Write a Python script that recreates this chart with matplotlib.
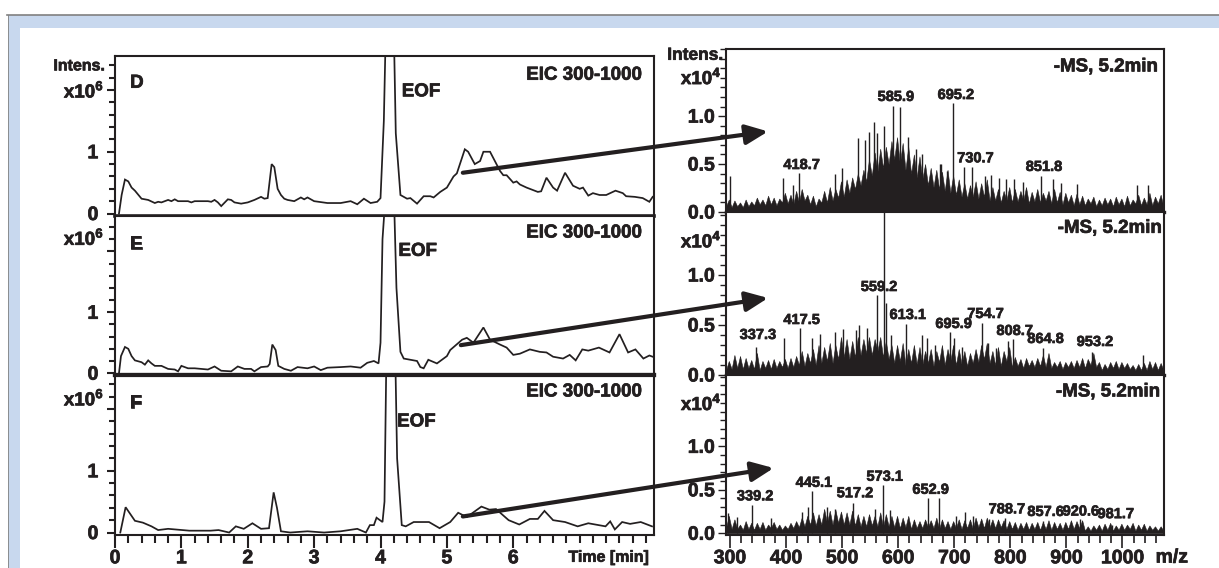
import numpy as np
import matplotlib
matplotlib.use('Agg')
import matplotlib.pyplot as plt
import matplotlib.patheffects as pe
from matplotlib.patches import Rectangle
from matplotlib.text import Text
from matplotlib.ticker import MultipleLocator

plt.rcParams['font.family'] = ['Liberation Sans', 'DejaVu Sans']
plt.rcParams['font.weight'] = 'bold'
plt.rcParams['mathtext.fontset'] = 'custom'
plt.rcParams['mathtext.rm'] = 'Liberation Sans:bold'
plt.rcParams['mathtext.bf'] = 'Liberation Sans:bold'

W = 1219
H = 568
TINTA = '#231f20'
AZUL = '#c8d8ee'

# Electroferogramas (tiempo en min, intensidad x10^6)
t_D = [0.06, 0.1, 0.15, 0.2, 0.25, 0.3, 0.4, 0.5, 0.6, 0.65, 0.7, 0.8, 0.85, 0.9, 0.95, 1.0, 1.1, 1.15, 1.2, 1.4, 1.45, 1.5, 1.55, 1.6, 1.7, 1.75, 1.8,
       1.9, 2.0, 2.1, 2.2, 2.25, 2.3, 2.36, 2.4, 2.45, 2.5, 2.55, 2.6, 2.7, 2.8, 2.85, 2.9, 3.0, 3.2, 3.4, 3.55, 3.65, 3.75, 3.85, 3.95, 4.0,
       4.05, 4.08, 4.2, 4.23, 4.3, 4.35, 4.4, 4.45, 4.55, 4.65, 4.75, 4.8, 4.9, 5.0, 5.1, 5.15, 5.27, 5.32, 5.42, 5.5, 5.55,
       5.65, 5.8, 5.85, 5.9, 6.0, 6.05, 6.1, 6.2, 6.37, 6.42, 6.5, 6.6, 6.66, 6.78, 6.9, 7.0, 7.05, 7.13, 7.2, 7.3, 7.4, 7.54, 7.65, 7.7, 7.83, 7.95, 8.05, 8.1]
int_D = [0, 0.3, 0.55, 0.52, 0.42, 0.37, 0.24, 0.22, 0.17, 0.19, 0.18, 0.22, 0.2, 0.23, 0.2, 0.2, 0.2, 0.18, 0.2, 0.2, 0.19, 0.22, 0.18, 0.12, 0.23, 0.22, 0.18,
         0.16, 0.18, 0.22, 0.27, 0.24, 0.25, 0.8, 0.75, 0.4, 0.3, 0.24, 0.22, 0.2, 0.26, 0.23, 0.26, 0.2, 0.17, 0.17, 0.2, 0.15, 0.24, 0.17, 0.19, 0.25,
         1.5, 3.0, 3.0, 1.3, 0.3, 0.27, 0.24, 0.25, 0.16, 0.28, 0.28, 0.26, 0.35, 0.42, 0.6, 0.65, 1.04, 1.0, 0.8, 0.85, 1.0,
         1.0, 0.69, 0.62, 0.62, 0.5, 0.52, 0.47, 0.42, 0.35, 0.36, 0.58, 0.42, 0.37, 0.66, 0.45, 0.4, 0.42, 0.29, 0.33, 0.3, 0.3, 0.37, 0.33, 0.28, 0.27, 0.25, 0.19, 0.27]

t_E = [0.06, 0.09, 0.15, 0.2, 0.25, 0.3, 0.4, 0.45, 0.5, 0.55, 0.6, 0.7, 0.8, 0.9, 0.95, 1.0, 1.1, 1.2, 1.3, 1.4, 1.5, 1.6, 1.75,
       1.85, 1.95, 2.05, 2.1, 2.2, 2.3, 2.33, 2.37, 2.42, 2.46, 2.55, 2.65, 2.75, 2.9, 3.0, 3.1, 3.2, 3.4, 3.55, 3.7, 3.8, 3.9, 3.97,
       4.0, 4.03, 4.08, 4.2, 4.24, 4.3, 4.35, 4.45, 4.55, 4.6, 4.65, 4.72, 4.85, 5.0, 5.05, 5.23, 5.3, 5.4, 5.55, 5.65, 5.8, 5.9,
       6.0, 6.1, 6.25, 6.4, 6.5, 6.6, 6.75, 6.85, 6.94, 7.04, 7.13, 7.29, 7.45, 7.6, 7.73, 7.84, 7.96, 8.05, 8.1]
int_E = [0, 0.28, 0.43, 0.4, 0.28, 0.21, 0.18, 0.14, 0.21, 0.16, 0.12, 0.12, 0.07, 0.06, 0.03, 0.12, 0.08, 0.08, 0.07, 0.06, 0.11, 0.04, 0.03,
         0.11, 0.07, 0.07, 0.03, 0.1, 0.11, 0.15, 0.47, 0.38, 0.12, 0.07, 0.04, 0.1, 0.08, 0.11, 0.05, 0.09, 0.1, 0.11, 0.09, 0.17, 0.2, 0.16,
         0.5, 2.2, 3.0, 3.0, 1.4, 0.35, 0.24, 0.22, 0.2, 0.1, 0.08, 0.22, 0.16, 0.28, 0.38, 0.55, 0.58, 0.5, 0.75, 0.55, 0.47, 0.42,
         0.3, 0.32, 0.39, 0.35, 0.34, 0.27, 0.24, 0.3, 0.21, 0.39, 0.37, 0.42, 0.34, 0.64, 0.34, 0.39, 0.24, 0.29, 0.27]

t_F = [0.08, 0.16, 0.3, 0.42, 0.55, 0.65, 0.8, 1.12, 1.44, 1.56, 1.72, 1.82, 1.94, 2.07, 2.2, 2.32, 2.39, 2.44, 2.5, 2.64, 2.9, 3.15,
       3.4, 3.65, 3.78, 3.84, 3.9, 3.94, 4.03, 4.06, 4.09, 4.22, 4.25, 4.32, 4.38, 4.5, 4.73, 4.89, 5.05, 5.17, 5.3, 5.52, 5.64,
       5.74, 5.93, 6.09, 6.25, 6.37, 6.47, 6.6, 6.78, 6.97, 7.13, 7.39, 7.46, 7.53, 7.64, 7.76, 7.92, 8.09]
int_F = [0, 0.41, 0.19, 0.16, 0.1, 0.04, 0.06, 0.03, 0.03, 0.04, 0, 0.1, 0.06, 0.15, 0.06, 0.07, 0.65, 0.4, 0.02, 0, 0.02, 0,
         0.02, 0.06, 0, 0.12, 0.12, 0.24, 0.17, 0.5, 3.0, 3.0, 1.2, 0.12, 0.1, 0.17, 0.17, 0.07, 0.17, 0.32, 0.25, 0.42, 0.37,
         0.38, 0.2, 0.13, 0.22, 0.22, 0.35, 0.2, 0.17, 0.1, 0.15, 0.1, 0.18, 0.05, 0.17, 0.14, 0.17, 0.1]

# Espectros: cuerpo cada 5 m/z desde 293, intensidad x10^4
cuerpo_D = [.06, .13, .05, .12, .06, .10, .05, .13, .06, .11,
            .07, .15, .08, .13, .07, .17, .08, .15, .07, .14,
            .10, .20, .09, .18, .08, .22, .10, .24, .12, .18,
            .08, .17, .06, .14, .10, .22, .10, .26, .12, .24,
            .15, .32, .16, .34, .20, .36, .24, .40, .28, .44,
            .32, .55, .38, .62, .42, .66, .46, .68, .50, .74,
            .55, .78, .50, .72, .44, .68, .40, .60, .36, .58,
            .34, .50, .28, .46, .26, .44, .24, .42, .22, .44,
            .20, .38, .18, .34, .16, .30, .14, .28, .16, .32,
            .14, .30, .16, .34, .12, .26, .12, .24, .10, .22,
            .12, .26, .10, .24, .11, .22, .12, .26, .09, .21,
            .11, .24, .10, .20, .12, .22, .09, .24, .10, .21,
            .08, .20, .10, .18, .07, .19, .08, .17, .07, .14,
            .09, .16, .06, .13, .07, .15, .08, .14, .06, .16,
            .08, .14, .06, .17, .07, .13, .09, .18, .07, .15,
            .08, .20, .07, .16, .09, .18, .06]
cuerpo_E = [.05, .14, .06, .20, .07, .19, .06, .17, .07, .15,
            .06, .22, .05, .14, .07, .15, .06, .16, .07, .14,
            .08, .16, .07, .17, .08, .19, .10, .24, .09, .22,
            .12, .26, .10, .30, .12, .28, .14, .32, .12, .30,
            .16, .38, .18, .36, .16, .34, .18, .38, .20, .36,
            .22, .38, .20, .36, .24, .38, .18, .34, .16, .30,
            .12, .30, .14, .32, .10, .26, .12, .30, .11, .28,
            .10, .24, .12, .26, .09, .24, .13, .30, .10, .26,
            .14, .30, .10, .26, .11, .24, .09, .22, .12, .26,
            .13, .30, .16, .32, .12, .24, .10, .28, .09, .24,
            .14, .28, .08, .18, .09, .16, .07, .17, .09, .15,
            .08, .17, .09, .20, .08, .22, .07, .13, .08, .14,
            .06, .13, .08, .14, .07, .15, .08, .17, .07, .16,
            .10, .22, .08, .13, .05, .11, .06, .13, .07, .14,
            .06, .13, .07, .12, .06, .10, .05, .11, .05, .12,
            .05, .14, .06, .13, .05, .12, .05]
cuerpo_F = [.06, .20, .05, .16, .05, .10, .04, .14, .05, .12,
            .04, .12, .05, .13, .04, .10, .06, .13, .05, .10,
            .04, .09, .05, .12, .06, .14, .07, .18, .08, .20,
            .10, .24, .09, .22, .10, .28, .12, .26, .10, .27,
            .12, .25, .10, .24, .10, .26, .09, .22, .08, .20,
            .08, .22, .09, .20, .08, .24, .07, .22, .08, .20,
            .07, .20, .06, .18, .07, .20, .05, .16, .06, .14,
            .06, .16, .07, .15, .06, .18, .05, .16, .06, .14,
            .05, .14, .06, .16, .05, .15, .06, .16, .05, .18,
            .07, .17, .06, .18, .07, .16, .06, .16, .07, .15,
            .05, .14, .05, .13, .04, .12, .05, .13, .04, .12,
            .05, .13, .04, .13, .05, .15, .04, .13, .05, .12,
            .04, .13, .05, .15, .05, .14, .06, .15, .03, .08,
            .03, .09, .04, .10, .03, .11, .04, .12, .03, .09,
            .04, .11, .04, .10, .05, .12, .03, .10, .04, .11,
            .03, .09, .04, .08, .03, .08, .03]

# Picos sueltos que sobresalen del cuerpo
mz_pico_D = [301, 395, 413, 424, 487, 499, 529, 541, 548, 557, 563, 574, 590, 604, 618, 632, 642, 675, 676, 687, 697, 717,
             732, 754, 766, 780, 793, 806, 823, 854, 876, 891, 919, 1025, 1046]
int_pico_D = [0.38, 0.35, 0.28, 0.41, 0.40, 0.46, 0.77, 0.75, 0.83, 0.94, 0.82, 0.90, 1.11, 1.10, 0.78, 0.66, 0.60, 0.50, 0.50, 0.43, 1.14, 0.47,
              0.47, 0.38, 0.39, 0.35, 0.34, 0.34, 0.31, 0.38, 0.34, 0.30, 0.29, 0.28, 0.28]
mz_pico_E = [346, 397, 425, 447, 461, 487, 502, 525, 531, 544, 562, 575, 578, 587, 614, 643, 652, 666, 693, 699, 713, 750,
             761, 775, 796, 804, 858, 945, 1037]
int_pico_E = [0.28, 0.37, 0.47, 0.37, 0.41, 0.43, 0.46, 0.45, 0.50, 0.47, 0.80, 1.70, 0.72, 0.40, 0.51, 0.40, 0.37, 0.30, 0.43, 0.37, 0.28, 0.52,
              0.32, 0.27, 0.34, 0.36, 0.27, 0.23, 0.20]
mz_pico_F = [297, 312, 339, 373, 428, 440, 446, 473, 488, 519, 559, 573, 586, 653, 672, 704, 720, 733, 762, 790, 858, 924, 982]
int_pico_F = [0.23, 0.19, 0.32, 0.17, 0.25, 0.30, 0.49, 0.30, 0.28, 0.35, 0.28, 0.55, 0.27, 0.41, 0.41, 0.20, 0.25, 0.20, 0.16, 0.18, 0.14, 0.16, 0.10]

etiquetas_D = ['418.7', '585.9', '695.2', '730.7', '851.8']
etiquetas_E = ['337.3', '417.5', '559.2', '613.1', '695.9', '754.7', '808.7', '864.8', '953.2']
etiquetas_F = ['339.2', '445.1', '517.2', '573.1', '652.9', '788.7', '857.6', '920.6', '981.7']


def ejes(x0, y0, x1, y1):
    # caja en pixeles de la imagen original
    return fig.add_axes([x0 / W, 1 - y1 / H, (x1 - x0) / W, (y1 - y0) / H])


def marco(ax, lw=1.5):
    for s in ax.spines.values():
        s.set_linewidth(lw)
        s.set_color(TINTA)


def panel_tiempo(ax, t, inten, letra, y_letra, y_eic, x_eof, y_eof, y_exp, ymin, ymax):
    ax.plot(t, inten, color=TINTA, lw=1.25, solid_joinstyle='miter')
    ax.set_xlim(0, 8.12)
    ax.set_ylim(ymin, ymax)
    ax.set_yticks([0, 1, 2])
    ax.set_yticklabels(['0', '1', ''], fontsize=14)
    ax.yaxis.set_minor_locator(MultipleLocator(0.2))
    ax.tick_params(axis='y', which='major', length=6, width=1.5, pad=6, color=TINTA, labelcolor=TINTA)
    ax.tick_params(axis='y', which='minor', length=4, width=1.5, color=TINTA)
    ax.set_xticks([])
    marco(ax)
    ax.text(0.028, y_letra, letra, transform=ax.transAxes, fontsize=13.5, color=TINTA, va='center')
    ax.text(x_eof, y_eof, 'EOF', fontsize=13.5, color=TINTA, va='center')
    ax.text(0.977, y_eic, 'EIC 300-1000', transform=ax.transAxes, fontsize=13.5, color=TINTA, ha='right', va='center')
    ax.text(-0.02, y_exp, r'x10$^{6}$', transform=ax.get_yaxis_transform(), fontsize=13.5, color=TINTA, ha='right', va='center')


def panel_ms(ax, cuerpo, mz_pico, int_pico, x_tit, y_tit, y_exp, ymin, ymax):
    mz = 293 + 5 * np.arange(len(cuerpo))
    ax.fill_between(mz, 0, cuerpo, color=TINTA, lw=0.4)
    ax.vlines(mz_pico, 0, int_pico, color=TINTA, lw=1.0)
    ax.set_xlim(293, 1074)
    ax.set_ylim(ymin, ymax)
    ax.set_yticks([0, 0.5, 1.0])
    ax.set_yticklabels(['0.0', '0.5', '1.0'], fontsize=14)
    ax.yaxis.set_minor_locator(MultipleLocator(0.1))
    ax.tick_params(axis='y', which='major', length=6, width=1, pad=2, color=TINTA, labelcolor=TINTA)
    ax.tick_params(axis='y', which='minor', length=4, width=1, color=TINTA)
    ax.set_xticks([])
    marco(ax, 1.5)
    ax.text(x_tit, y_tit, '-MS, 5.2min', transform=ax.transAxes, fontsize=13.5, color=TINTA, ha='right', va='center')
    ax.text(-0.01, y_exp, r'x10$^{4}$', transform=ax.get_yaxis_transform(), fontsize=13.5, color=TINTA, ha='right', va='center')


fig = plt.figure(figsize=(W / 100, H / 100), dpi=100, facecolor='white')

# marco azul de la pagina
fondo = fig.add_axes([0, 0, 1, 1], zorder=-1)
fondo.set_xlim(0, W)
fondo.set_ylim(H, 0)
fondo.axis('off')
fondo.add_patch(Rectangle((7.5, 15), W - 7.5, H - 15, color=AZUL, lw=0))
fondo.add_patch(Rectangle((20, 28), W - 20, H - 28, color='white', lw=0))
fondo.plot([7, W], [14.5, 14.5], color='#808080', lw=1.2)
fondo.plot([7.5, 7.5], [14.5, H], color='#808080', lw=0.6)

ax_D = ejes(115, 56, 654, 216)
ax_E = ejes(115, 216, 654, 375)
ax_F = ejes(115, 375, 654, 535)
panel_tiempo(ax_D, t_D, int_D, 'D', 0.83, 0.88, 4.32, 1.97, 1.98, -0.04, 2.55)
panel_tiempo(ax_E, t_E, int_E, 'E', 0.82, 0.893, 4.27, 2.0, 2.21, -0.03, 2.58)
panel_tiempo(ax_F, t_F, int_F, 'F', 0.82, 0.894, 4.25, 1.79, 2.16, -0.04, 2.55)
ax_D.spines['bottom'].set_linewidth(2.6)
ax_E.spines['bottom'].set_linewidth(3.0)
ax_F.spines['top'].set_linewidth(3.0)

ax_F.set_xticks([0, 1, 2, 3, 4, 5, 6])
ax_F.set_xticklabels(['0', '1', '2', '3', '4', '5', '6'], fontsize=14)
ax_F.xaxis.set_minor_locator(MultipleLocator(0.2))
ax_F.tick_params(axis='x', which='major', length=9, width=1.5, pad=2, color=TINTA, labelcolor=TINTA)
ax_F.tick_params(axis='x', which='minor', length=6, width=1.5, color=TINTA)
ax_F.text(7.44, -0.40, 'Time [min]', fontsize=11.5, color=TINTA, ha='center', va='center')
ax_D.text(-0.018, 2.39, 'Intens.', transform=ax_D.get_yaxis_transform(), fontsize=11.5, color=TINTA, ha='right', va='center')

ms_D = ejes(726, 49, 1164, 212)
ms_E = ejes(726, 212, 1164, 375)
ms_F = ejes(726, 375, 1164, 535)
panel_ms(ms_D, cuerpo_D, mz_pico_D, int_pico_D, 0.986, 0.89, 1.40, 0, 1.70)
panel_ms(ms_E, cuerpo_E, mz_pico_E, int_pico_E, 0.995, 0.90, 1.34, 0, 1.63)
panel_ms(ms_F, cuerpo_F, mz_pico_F, int_pico_F, 0.991, 0.894, 1.49, -0.02, 1.82)
ms_D.spines['bottom'].set_linewidth(2.4)
ms_E.spines['bottom'].set_linewidth(2.4)
ms_D.text(-0.006, 1.635, 'Intens.', transform=ms_D.get_yaxis_transform(), fontsize=12.5, color=TINTA, ha='right', va='center')

ms_F.set_xticks([300, 400, 500, 600, 700, 800, 900, 1000])
ms_F.set_xticklabels(['300', '400', '500', '600', '700', '800', '900', '1000'], fontsize=14)
ms_F.xaxis.set_minor_locator(MultipleLocator(20))
ms_F.tick_params(axis='x', which='major', length=9, width=1.2, pad=2, color=TINTA, labelcolor=TINTA)
ms_F.tick_params(axis='x', which='minor', length=6, width=1.2, color=TINTA)
ms_F.text(1088, -0.285, 'm/z', fontsize=14, color=TINTA, ha='center', va='center', clip_on=False)

# etiquetas de masa, en las coordenadas del pico que nombran
for et, x, y in zip(etiquetas_D, [428, 596, 703, 738, 860], [0.49, 1.20, 1.22, 0.56, 0.47]):
    ms_D.text(x, y, et, fontsize=10.5, color=TINTA, ha='center', va='center')
for et, x, y in zip(etiquetas_E, [350, 428, 566, 617, 699, 756, 808, 863, 951],
                    [0.40, 0.55, 0.88, 0.60, 0.51, 0.61, 0.44, 0.36, 0.33]):
    ms_E.text(x, y, et, fontsize=10.5, color=TINTA, ha='center', va='center')
for et, x, y in zip(etiquetas_F, [345, 450, 523, 576, 658, 794, 863, 926, 988],
                    [0.425, 0.58, 0.46, 0.65, 0.50, 0.275, 0.245, 0.25, 0.22]):
    ms_F.text(x, y, et, fontsize=10.5, color=TINTA, ha='center', va='center')

# flechas del electroferograma al espectro
for ax_t, ax_ms, p0, p1 in [(ax_D, ms_D, (5.24, 0.66), (368, 0.84)),
                            (ax_E, ms_E, (5.21, 0.46), (368, 0.77)),
                            (ax_F, ms_F, (5.24, 0.26), (378, 0.75))]:
    anot = ax_ms.annotate('', xy=p1, xycoords=ax_ms.transData, xytext=p0, textcoords=ax_t.transData,
                          arrowprops=dict(arrowstyle='-|>,head_length=0.45,head_width=0.2', color=TINTA, lw=3.0,
                                          shrinkA=0, shrinkB=0, mutation_scale=30), annotation_clip=False)
    anot.set_zorder(20)

# el original esta impreso con el texto mas grueso
for txt in fig.findobj(Text):
    txt.set_path_effects([pe.withStroke(linewidth=0.5, foreground=TINTA)])

fig.savefig('out.png', dpi=100)
